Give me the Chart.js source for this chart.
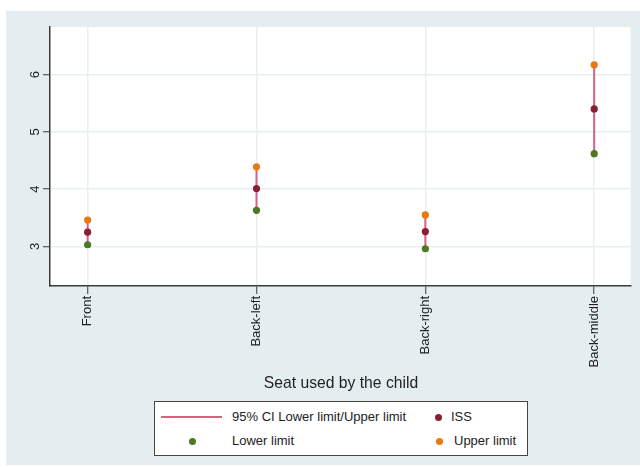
<!DOCTYPE html>
<html>
<head>
<meta charset="utf-8">
<script src="https://cdn.jsdelivr.net/npm/chart.js@4/dist/chart.umd.min.js"></script>
<style>
  html, body { margin: 0; padding: 0; background: #ffffff; }
  #wrap { position: relative; width: 640px; height: 467px; overflow: hidden; font-family: "Liberation Sans", Arial, sans-serif; }
  #panel { position: absolute; left: 6px; top: 11px; width: 634px; height: 454px; background: #e4eef0; }
  #chart { position: absolute; left: 0; top: 0; }
  #xtitle { position: absolute; left: 0; width: 682px; top: 374px; text-align: center; font-size: 15.7px; color: #222; }
  #legend { position: absolute; left: 154px; top: 401px; width: 372px; height: 53px; background: #fff; border: 1px solid #444; font-size: 13px; color: #222; }
  .item { position: absolute; line-height: 16px; white-space: nowrap; }
  .dot { position: absolute; width: 7px; height: 7px; border-radius: 50%; }
  .seg { position: absolute; height: 2px; }
</style>
</head>
<body>
<div id="wrap">
  <div id="panel"></div>
  <canvas id="chart" width="640" height="467"></canvas>
  <div id="xtitle">Seat used by the child</div>
  <div id="legend"></div>
</div>
<script>
// Injury severity score by seat position, with 95% confidence limits
const seats = ['Front', 'Back-left', 'Back-right', 'Back-middle'];
const issMean = [3.25, 4.01, 3.26, 5.40];
const lowerLimit = [3.03, 3.63, 2.96, 4.62];
const upperLimit = [3.46, 4.39, 3.55, 6.17];
const yTicks = [3, 4, 5, 6];

const colors = {
  ci: '#d9607f',
  iss: '#8a1e33',
  lower: '#4b7a22',
  upper: '#e8780f',
  grid: '#e6eff1',
  axis: '#3a3a3a',
  text: '#222222'
};

// Vertical CI segments, broken between seats with null gaps
const ciPoints = [];
seats.forEach((s, i) => {
  ciPoints.push({ x: i + 1, y: lowerLimit[i] });
  ciPoints.push({ x: i + 1, y: upperLimit[i] });
  ciPoints.push({ x: i + 1, y: null });
});
const toXY = arr => arr.map((v, i) => ({ x: i + 1, y: v }));

const plotBackground = {
  id: 'plotBackground',
  beforeDraw(chart) {
    const { ctx, chartArea: a } = chart;
    ctx.save();
    ctx.fillStyle = '#ffffff';
    ctx.fillRect(a.left, a.top, a.right - a.left, a.bottom - a.top);
    ctx.restore();
  }
};

const tickFont = { family: '"Liberation Sans", Arial, sans-serif', size: 13 };

new Chart(document.getElementById('chart'), {
  type: 'scatter',
  data: {
    datasets: [
      { label: '95% CI Lower limit/Upper limit', type: 'line', data: ciPoints, borderColor: colors.ci, borderWidth: 2, pointRadius: 0, spanGaps: false, fill: false, order: 5 },
      { label: 'ISS', data: toXY(issMean), backgroundColor: colors.iss, borderColor: colors.iss, pointRadius: 3.6, borderWidth: 0, order: 1 },
      { label: 'Lower limit', data: toXY(lowerLimit), backgroundColor: colors.lower, borderColor: colors.lower, pointRadius: 3.6, borderWidth: 0, order: 2 },
      { label: 'Upper limit', data: toXY(upperLimit), backgroundColor: colors.upper, borderColor: colors.upper, pointRadius: 3.6, borderWidth: 0, order: 3 }
    ]
  },
  options: {
    responsive: false,
    maintainAspectRatio: false,
    animation: false,
    layout: { padding: { top: 27, right: 9.5, left: 0, bottom: 0 } },
    plugins: { legend: { display: false }, tooltip: { enabled: false } },
    scales: {
      x: {
        type: 'linear',
        min: 0.777,
        max: 4.215,
        afterBuildTicks: s => { s.ticks = seats.map((_, i) => ({ value: i + 1 })); },
        afterFit: s => { s.height = 181; },
        ticks: {
          autoSkip: false,
          minRotation: 90,
          maxRotation: 90,
          padding: 2,
          color: colors.text,
          font: tickFont,
          callback: v => seats[v - 1] ?? ''
        },
        grid: { color: colors.grid, lineWidth: 1.5, tickColor: colors.axis, tickLength: 8, tickWidth: 1 },
        border: { color: colors.axis, width: 1.5 }
      },
      y: {
        min: 2.31,
        max: 6.83,
        afterBuildTicks: s => { s.ticks = yTicks.map(v => ({ value: v })); },
        afterFit: s => { s.width = 50; },
        ticks: {
          minRotation: 90,
          maxRotation: 90,
          crossAlign: 'center',
          padding: 4,
          color: colors.text,
          font: tickFont
        },
        grid: { color: colors.grid, lineWidth: 1.5, tickColor: colors.axis, tickLength: 7, tickWidth: 1 },
        border: { color: colors.axis, width: 1.5 }
      }
    }
  },
  plugins: [plotBackground]
});

// Two-column legend box below the axis title
const legend = document.getElementById('legend');
const entries = [
  { kind: 'seg', color: colors.ci, mx: 6, tx: 77, row: 0, text: '95% CI Lower limit/Upper limit' },
  { kind: 'dot', color: colors.iss, mx: 283, tx: 296, row: 0, text: 'ISS' },
  { kind: 'dot', color: colors.lower, mx: 37, tx: 77, row: 1, text: 'Lower limit' },
  { kind: 'dot', color: colors.upper, mx: 284, tx: 299, row: 1, text: 'Upper limit' }
];
const rowY = [15, 39];
entries.forEach(e => {
  const m = document.createElement('div');
  m.className = e.kind;
  m.style.background = e.color;
  if (e.kind === 'seg') {
    m.style.left = e.mx + 'px';
    m.style.width = '61px';
    m.style.top = (rowY[e.row] - 1) + 'px';
  } else {
    m.style.left = (e.mx - 3.5) + 'px';
    m.style.top = (rowY[e.row] - 3.5) + 'px';
  }
  legend.appendChild(m);
  const t = document.createElement('div');
  t.className = 'item';
  t.style.left = e.tx + 'px';
  t.style.top = (rowY[e.row] - 8) + 'px';
  t.textContent = e.text;
  legend.appendChild(t);
});
</script>
</body>
</html>
